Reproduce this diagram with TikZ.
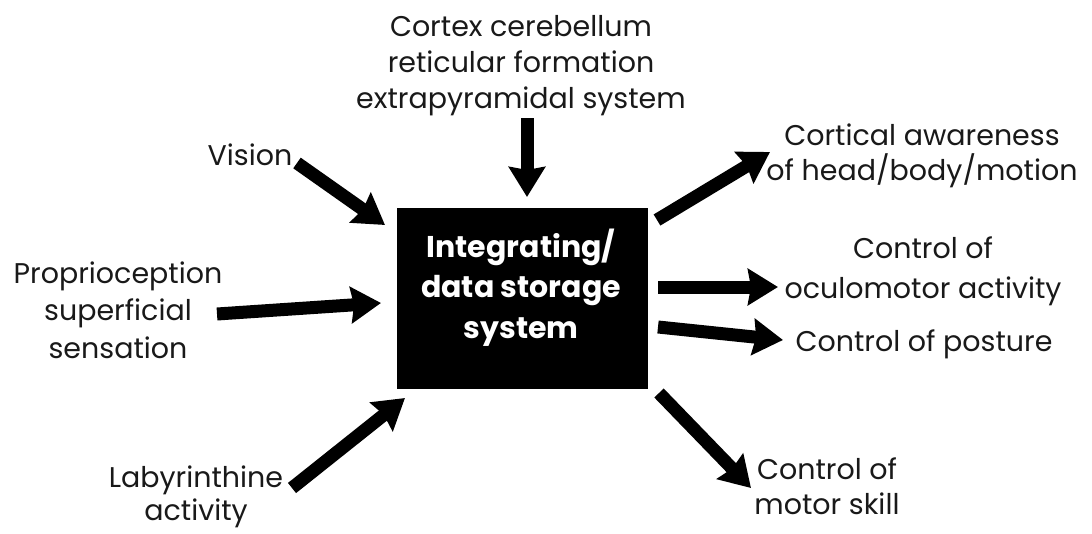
\documentclass[tikz,border=0pt]{standalone}
\usepackage{fontspec}
\setmainfont{Poppins}
\usetikzlibrary{arrows.meta}
\begin{document}
\begin{tikzpicture}[x=1pt,y=-1pt,
  lab/.style={anchor=base,align=center,inner sep=0pt,font=\fontsize{28.5}{36}\selectfont,text=black!90},
  bigarrow/.style={line width=13pt,-{Stealth[length=30pt,width=36pt,inset=3pt]}},
  blackbox/.style={fill=black,minimum width=251pt,minimum height=181pt,inner sep=0pt},
  boxtext/.style={anchor=base,inner sep=0pt,text=white,align=center,font=\bfseries\fontsize{30}{40.5}\selectfont}]
\useasboundingbox (0,0) rectangle (1092,533);
% central box
\node[blackbox] (box) at (522,298.5) {};
\node[boxtext] (boxlabel) at (521,338) {Integrating/\\data storage\\system};
% labels (anchor = baseline of last line)
\node[lab] (top) at (521,108) {Cortex cerebellum\\reticular formation\\extrapyramidal system};
\node[lab] (vision) at (250,165) {Vision};
\node[lab,font=\fontsize{28.5}{37.5}\selectfont] (prop) at (118,358) {Proprioception\\superficial\\sensation};
\node[lab,font=\fontsize{28.5}{33}\selectfont] (laby) at (196,520) {Labyrinthine\\activity};
\node[lab,font=\fontsize{28.5}{35}\selectfont] (cort) at (922,180) {Cortical awareness\\of head/body/motion};
\node[lab,font=\fontsize{28.5}{40}\selectfont] (ocul) at (923,298) {Control of\\oculomotor activity};
\node[lab] (post) at (924,351) {Control of posture};
\node[lab,font=\fontsize{28.5}{35}\selectfont] (motor) at (827,514) {Control of\\motor skill};
% arrow end points
\coordinate (topT) at (527,118);  \coordinate (topH) at (527,197);
\coordinate (visT) at (297,163);  \coordinate (visH) at (385,225);
\coordinate (propT) at (217,314); \coordinate (propH) at (381,303);
\coordinate (labT) at (292,488);  \coordinate (labH) at (405,398);
\coordinate (cortT) at (657,220); \coordinate (cortH) at (770,152);
\coordinate (oculT) at (658,287); \coordinate (oculH) at (778,287);
\coordinate (postT) at (658,327); \coordinate (postH) at (783,340);
\coordinate (motT) at (659,393);  \coordinate (motH) at (751,488);
% arrows
\draw[bigarrow] (topT) -- (topH);
\draw[bigarrow] (visT) -- (visH);
\draw[bigarrow] (propT) -- (propH);
\draw[bigarrow] (labT) -- (labH);
\draw[bigarrow] (cortT) -- (cortH);
\draw[bigarrow] (oculT) -- (oculH);
\draw[bigarrow] (postT) -- (postH);
\draw[bigarrow] (motT) -- (motH);
\end{tikzpicture}
\end{document}
